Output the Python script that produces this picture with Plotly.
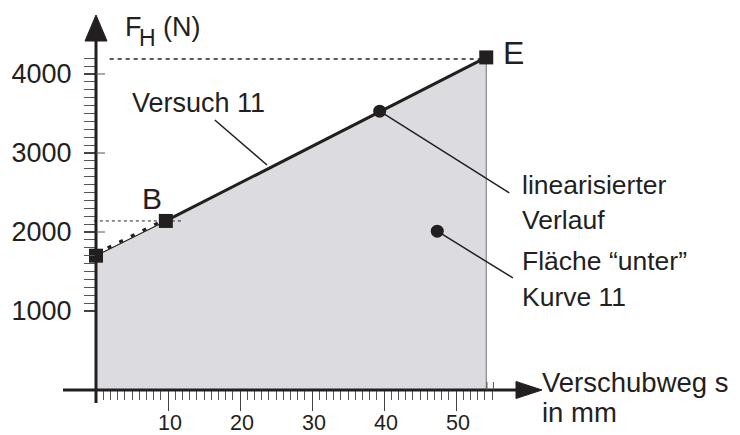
import plotly.graph_objects as go

# ---------------- data ----------------
s_mm = [0, 9.7, 54.2]          # start, B, E  (Verschubweg s in mm)
F_N = [1700, 2140, 4210]       # Kraft F_H in N
point_labels = ["", "B", "E"]
lin_point = (39.4, 3530)       # "linearisierter Verlauf" marker
area_point = (47.4, 2010)      # "Fläche unter Kurve 11" marker

x_major = [10, 20, 30, 40, 50]
x_major_text = ["10", "20", "30", "40", "50"]
x_minor = list(range(1, 56))
y_major = [1000, 2000, 3000, 4000]
y_major_text = ["1000", "2000", "3000", "4000"]
y_minor = list(range(1000, 4201, 100))

# ---------------- geometry ----------------
# The page body has an 8px margin, so the figure is 8px smaller and all
# reference pixel positions are shifted by OFF.
OFF = 8
W, H = 740 - OFF, 435 - OFF
X0_PX, Y0_PX = 96 - OFF, 390 - OFF      # origin in figure pixels
PX_PER_X, PX_PER_Y = 7.2, 0.079
xr = [-X0_PX / PX_PER_X, (W - X0_PX) / PX_PER_X]
yr = [-(H - Y0_PX) / PX_PER_Y, Y0_PX / PX_PER_Y]


def dx(p):
    return p / PX_PER_X


def dy(p):
    return p / PX_PER_Y


INK = "#231f20"
FILL = "#dcdce0"
FONT = "Liberation Sans, Arial, sans-serif"

fig = go.Figure()

# area under the curve
fig.add_trace(go.Scatter(
    x=[s_mm[0]] + s_mm + [s_mm[-1]],
    y=[0] + F_N + [0],
    fill="toself", fillcolor=FILL, mode="lines",
    line=dict(width=0), hoverinfo="skip", showlegend=False))
# right edge of the area
fig.add_trace(go.Scatter(x=[s_mm[-1], s_mm[-1]], y=[0, F_N[-1]], mode="lines",
                         line=dict(color="#6f6f6f", width=1), showlegend=False))

# reference dotted lines for B and E
fig.add_trace(go.Scatter(x=[-0.3, 12.2], y=[F_N[1], F_N[1]], mode="lines",
                         line=dict(color=INK, width=1, dash="3px,3px"), showlegend=False))
fig.add_trace(go.Scatter(x=[1.9, s_mm[2]], y=[F_N[2] - 20, F_N[2] - 20], mode="lines",
                         line=dict(color=INK, width=1.5, dash="4px,4px"), showlegend=False))

# start -> B : thin solid + measured (dotted)
fig.add_trace(go.Scatter(x=s_mm[:2], y=F_N[:2], mode="lines",
                         line=dict(color=INK, width=1.2), showlegend=False))
fig.add_trace(go.Scatter(x=s_mm[:2], y=[F_N[0] + 25, F_N[1] + 25], mode="lines",
                         line=dict(color=INK, width=3, dash="4px,9px"), showlegend=False))
# B -> E : linearised curve
fig.add_trace(go.Scatter(x=s_mm[1:], y=F_N[1:], mode="lines",
                         line=dict(color=INK, width=3), showlegend=False))

# square markers
fig.add_trace(go.Scatter(x=s_mm, y=F_N, mode="markers",
                         marker=dict(symbol="square", size=14, color=INK), showlegend=False))
# circle markers
fig.add_trace(go.Scatter(x=[lin_point[0], area_point[0]], y=[lin_point[1], area_point[1]],
                         mode="markers", marker=dict(symbol="circle", size=13, color=INK),
                         showlegend=False))

shapes = []
# axes lines
shapes.append(dict(type="line", xref="x", yref="y", x0=dx(-33), x1=dx(517 - 96), y0=0, y1=0,
                   line=dict(color=INK, width=3)))
shapes.append(dict(type="line", xref="x", yref="y", x0=0, x1=0, y0=dy(-13), y1=dy(390 - 40),
                   line=dict(color=INK, width=3)))
# arrow heads
tx, bx, hh = dx(542 - 96), dx(516 - 96), dy(8.5)
shapes.append(dict(type="path", xref="x", yref="y",
                   path=f"M {tx},0 L {bx},{hh} L {bx},{-hh} Z",
                   fillcolor=INK, line=dict(color=INK, width=1)))
ty, by, hw = dy(390 - 15), dy(390 - 41), dx(11)
shapes.append(dict(type="path", xref="x", yref="y",
                   path=f"M 0,{ty} L {hw},{by} L {-hw},{by} Z",
                   fillcolor=INK, line=dict(color=INK, width=1)))
# major y ticks crossing the axis
for v in y_major[1:]:
    shapes.append(dict(type="line", xref="x", yref="y", x0=0, x1=dx(9), y0=v, y1=v,
                       line=dict(color="#555", width=1)))
# x ticks above axis at the end
for v in [54.3, 55.2]:
    shapes.append(dict(type="line", xref="x", yref="y", x0=v, x1=v, y0=0, y1=dy(8),
                       line=dict(color="#555", width=1)))
# leader lines
shapes.append(dict(type="line", xref="x", yref="y", x0=16.5, y0=3418, x1=23.75, y1=2848,
                   line=dict(color=INK, width=1.5)))
shapes.append(dict(type="line", xref="x", yref="y", x0=lin_point[0], y0=lin_point[1],
                   x1=57.4, y1=2494, line=dict(color=INK, width=1.5)))
shapes.append(dict(type="line", xref="x", yref="y", x0=area_point[0], y0=area_point[1],
                   x1=57.9, y1=1418, line=dict(color=INK, width=1.5)))


def ann(text, px, py, size=27, xanchor="left"):
    # px, py: position in reference-window pixels
    return dict(text=text, xref="paper", yref="paper", x=(px - OFF) / W, y=1 - (py - OFF) / H,
                xanchor=xanchor, yanchor="middle", showarrow=False,
                font=dict(family=FONT, size=size, color=INK))


annotations = [
    ann("F", 123, 27, 27),
    ann("H", 137, 38, 23),
    ann("(N)", 161, 27, 27),
    ann("Versuch 11", 130, 103, 27),
    ann(point_labels[1], 152, 198, 30, "center"),
    ann(point_labels[2], 501, 53, 32),
    ann("linearisierter", 520, 185, 26.5),
    ann("Verlauf", 520, 220, 26.5),
    ann("Fläche “unter”", 520, 261, 26.5),
    ann("Kurve 11", 520, 297, 26.5),
    ann("Verschubweg s", 540, 382, 27.5),
    ann("in mm", 540, 412, 27.5),
]
# x tick labels (placed on the x scale)
for v, t in zip(x_major, x_major_text):
    annotations.append(dict(text=t, xref="x", yref="paper", x=v, y=1 - (423 - OFF) / H,
                            xanchor="center", yanchor="middle", xshift=2, showarrow=False,
                            borderpad=0,
                            font=dict(family=FONT, size=21.5, color=INK)))

fig.update_layout(
    template="none",
    width=W, height=H,
    margin=dict(l=0, r=0, t=0, b=0),
    paper_bgcolor="white", plot_bgcolor="white",
    showlegend=False,
    shapes=shapes, annotations=annotations,
    xaxis=dict(range=xr, anchor="free", position=(H - Y0_PX) / H, showgrid=False,
               zeroline=False, showline=False, automargin=False, fixedrange=True,
               tickmode="array", tickvals=x_major, ticktext=x_major_text,
               showticklabels=False,
               ticks="outside", ticklen=20, tickwidth=1, tickcolor="#444",
               minor=dict(tickmode="array", tickvals=x_minor, ticks="outside",
                          ticklen=9, tickwidth=1, tickcolor="#555")),
    yaxis=dict(range=yr, anchor="free", position=X0_PX / W, showgrid=False,
               zeroline=False, showline=False, automargin=False, fixedrange=True,
               tickmode="array", tickvals=y_major, ticktext=y_major_text,
               ticks="outside", ticklen=12, tickwidth=1.5, tickcolor="#444",
               ticklabelstandoff=7,
               tickfont=dict(family=FONT, size=27, color=INK),
               minor=dict(tickmode="array", tickvals=y_minor, ticks="outside",
                          ticklen=12, tickwidth=1.3, tickcolor="#555")),
)

fig.write_html("out.html")
